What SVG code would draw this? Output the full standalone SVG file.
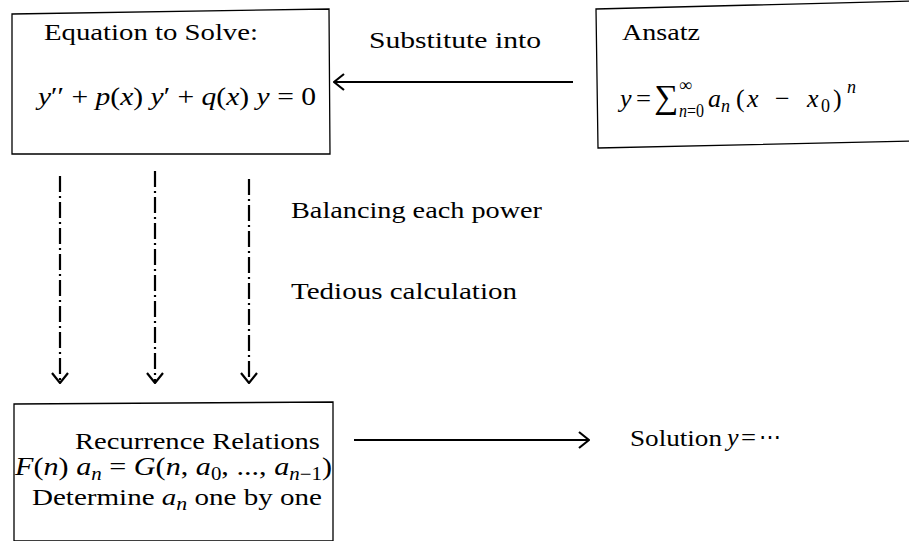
<svg xmlns="http://www.w3.org/2000/svg" width="909" height="541" viewBox="0 0 909 541">
<style>
.box{fill:#fff;stroke:#000;stroke-width:1.3}
.t{font-family:"Liberation Serif","DejaVu Serif",serif;font-size:24px;fill:#000}
.m{font-family:"Liberation Serif","DejaVu Serif",serif;font-style:italic;font-size:26px;fill:#000}
.n{font-family:"Liberation Serif","DejaVu Serif",serif;font-size:26px;fill:#000}
.r{font-style:normal}
.s{font-size:18px}
.c{stroke:#000;stroke-width:2;fill:none}
.dd{stroke:#000;stroke-width:2.2;fill:none;stroke-dasharray:16 4 2 4}
</style>
<defs>
<marker id="ah" viewBox="0 0 12 18" refX="11" refY="9" markerWidth="12" markerHeight="18" markerUnits="userSpaceOnUse" orient="auto">
<path d="M1,1 L11,9 L1,17" fill="none" stroke="#000" stroke-width="2.2"/>
</marker>
</defs>
<g id="connectors">
<line class="c" x1="573" y1="82" x2="334" y2="82" marker-end="url(#ah)"/>
<line class="dd" x1="60" y1="176" x2="60" y2="383" marker-end="url(#ah)"/>
<line class="dd" x1="155" y1="171" x2="155" y2="383" marker-end="url(#ah)"/>
<line class="dd" x1="249" y1="179" x2="249" y2="383" marker-end="url(#ah)"/>
<line class="c" x1="354" y1="440" x2="589" y2="440" marker-end="url(#ah)"/>
<text class="t" x="369" y="48" textLength="172" lengthAdjust="spacingAndGlyphs">Substitute into</text>
<text class="t" x="291" y="218" textLength="251" lengthAdjust="spacingAndGlyphs">Balancing each power</text>
<text class="t" x="291" y="299" textLength="226" lengthAdjust="spacingAndGlyphs">Tedious calculation</text>
</g>
<g id="equation">
<polygon class="box" points="12,14 329,9 330,154 12,154"/>
<text class="t" x="44" y="40" textLength="214" lengthAdjust="spacingAndGlyphs">Equation to Solve:</text>
<text class="m" x="38" y="105" textLength="278" lengthAdjust="spacingAndGlyphs">y<tspan class="r">′′ + </tspan>p<tspan class="r">(</tspan>x<tspan class="r">) </tspan>y<tspan class="r">′ + </tspan>q<tspan class="r">(</tspan>x<tspan class="r">) </tspan>y<tspan class="r"> = 0</tspan></text>
</g>
<g id="ansatz">
<polygon class="box" points="596,9 912,1 912,141 598,148"/>
<text class="t" x="622" y="40" textLength="78" lengthAdjust="spacingAndGlyphs">Ansatz</text>
<text class="m" x="620" y="107">y</text>
<text class="n" x="636" y="107" textLength="15" lengthAdjust="spacingAndGlyphs">=</text>
<text class="n" transform="translate(654,108) scale(1.3)">∑</text>
<text class="n s" x="679" y="91">∞</text>
<text class="m s" x="679" y="117" textLength="25" lengthAdjust="spacingAndGlyphs">n<tspan class="r">=0</tspan></text>
<text class="m" x="708" y="107">a</text>
<text class="m s" x="721" y="112">n</text>
<text class="n" x="736" y="107">(</text>
<text class="m" x="747" y="107">x</text>
<text class="n" x="775" y="107">−</text>
<text class="m" x="807" y="107">x</text>
<text class="n s" x="821" y="112">0</text>
<text class="n" x="833" y="107">)</text>
<text class="m s" x="847" y="93">n</text>
</g>
<g id="recurrence">
<polygon class="box" points="14,404 333,402 333,541 14,541"/>
<text class="t" x="75" y="449" textLength="245" lengthAdjust="spacingAndGlyphs">Recurrence Relations</text>
<text class="m" x="15" y="475" textLength="317" lengthAdjust="spacingAndGlyphs">F<tspan class="r">(</tspan>n<tspan class="r">) </tspan>a<tspan class="s" dy="5">n</tspan><tspan class="r" dy="-5"> = </tspan>G<tspan class="r">(</tspan>n<tspan class="r">, </tspan>a<tspan class="s r" dy="5">0</tspan><tspan class="r" dy="-5">, ..., </tspan>a<tspan class="s" dy="5">n</tspan><tspan class="s r">−1</tspan><tspan class="r" dy="-5">)</tspan></text>
<text class="t" x="32" y="505" textLength="290" lengthAdjust="spacingAndGlyphs">Determine <tspan class="m" style="font-size:24px">a</tspan><tspan class="m s" dy="5">n</tspan><tspan dy="-5"> one by one</tspan></text>
</g>
<g id="solution">
<text class="t" x="630" y="446" textLength="92" lengthAdjust="spacingAndGlyphs">Solution</text>
<text class="m" x="727" y="446">y</text>
<text class="n" x="741" y="446" textLength="15" lengthAdjust="spacingAndGlyphs">=</text>
<text class="n" x="759" y="446" textLength="22" lengthAdjust="spacingAndGlyphs">⋯</text>
</g>
</svg>
